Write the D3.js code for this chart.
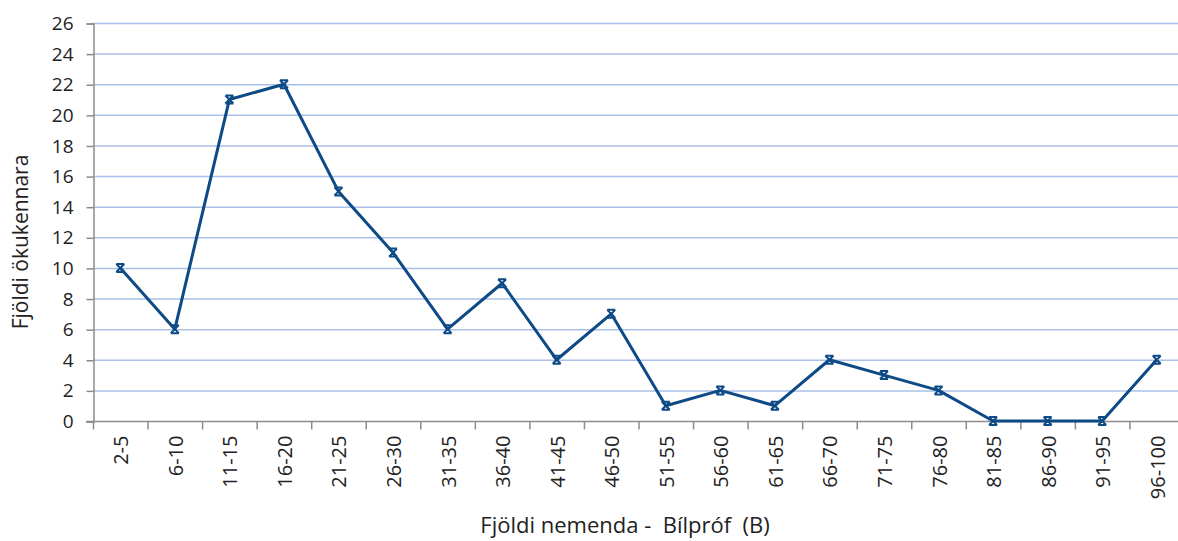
<!DOCTYPE html>
<html>
<head>
<meta charset="utf-8">
<script src="https://d3js.org/d3.v7.min.js"></script>
<style>
  body { margin: 0; background: #fff; }
  text { font-family: "Open Sans", "Liberation Sans", sans-serif; fill: #222; }
</style>
</head>
<body>
<div class="chart"></div>
<script>
// gögn
var categories = ["2-5", "6-10", "11-15", "16-20", "21-25", "26-30", "31-35", "36-40", "41-45", "46-50",
  "51-55", "56-60", "61-65", "66-70", "71-75", "76-80", "81-85", "86-90", "91-95", "96-100"];
var values = [10, 6, 21, 22, 15, 11, 6, 9, 4, 7, 1, 2, 1, 4, 3, 2, 0, 0, 0, 4];
var yTicks = [0, 2, 4, 6, 8, 10, 12, 14, 16, 18, 20, 22, 24, 26];
var xTitle = "Fjöldi nemenda -  Bílpróf  (B)";
var yTitle = "Fjöldi ökukennara";

var width = 1178, height = 541;
var mLeft = 93, mRight = 1184, mTop = 23, mBottom = 421;

var svg = d3.select(".chart")
  .append("svg")
  .attr("width", width)
  .attr("height", height);

var x = d3.scaleBand().domain(categories).range([mLeft, mRight]);
var y = d3.scaleLinear().domain([0, 26]).range([mBottom, mTop]);

// grid
svg.append("g")
  .selectAll("line")
  .data(yTicks.filter(function(d) { return d > 0; }))
  .enter()
  .append("line")
  .attr("x1", mLeft)
  .attr("x2", mRight)
  .attr("y1", function(d) { return y(d) + 0.5; })
  .attr("y2", function(d) { return y(d) + 0.5; })
  .attr("stroke", "#a9c0e8")
  .attr("stroke-width", 1.5);

// y ás
var yAxis = svg.append("g")
  .attr("transform", "translate(" + (mLeft + 0.5) + ",0.5)")
  .call(d3.axisLeft(y).tickValues(yTicks).tickSize(7).tickPadding(13));
yAxis.select(".domain").attr("stroke", "#8c8c8c").attr("stroke-width", 1.5);
yAxis.selectAll(".tick line").attr("stroke", "#8c8c8c").attr("stroke-width", 1.5);
yAxis.selectAll(".tick text")
  .style("font-family", "'Open Sans', sans-serif")
  .style("font-size", "19px")
  .attr("fill", "#222");

// x ás
var xAxis = svg.append("g")
  .attr("transform", "translate(0," + (mBottom + 0.5) + ")");
xAxis.append("line")
  .attr("x1", mLeft - 7).attr("x2", mRight)
  .attr("stroke", "#8c8c8c").attr("stroke-width", 1.5);
xAxis.selectAll(".xtick")
  .data(categories)
  .enter()
  .append("line")
  .attr("x1", function(d) { return x(d) + 0.5; })
  .attr("x2", function(d) { return x(d) + 0.5; })
  .attr("y1", 0).attr("y2", 8)
  .attr("stroke", "#8c8c8c").attr("stroke-width", 1.5);
xAxis.selectAll(".xlabel")
  .data(categories)
  .enter()
  .append("text")
  .attr("transform", function(d) {
    return "translate(" + (x(d) + x.bandwidth() / 2 + 8) + ",14) rotate(-90)";
  })
  .attr("text-anchor", "end")
  .style("font-size", "20px")
  .text(function(d) { return d; });

// lína
var line = d3.line()
  .x(function(d, i) { return x(categories[i]) + x.bandwidth() / 2; })
  .y(function(d) { return y(d); });

svg.append("path")
  .datum(values)
  .attr("d", line)
  .attr("fill", "none")
  .attr("stroke", "#0d4a86")
  .attr("stroke-width", 3)
  .attr("stroke-linejoin", "round");

// merki
var markers = svg.append("g")
  .selectAll("g")
  .data(values)
  .enter()
  .append("g")
  .attr("transform", function(d, i) {
    return "translate(" + (x(categories[i]) + x.bandwidth() / 2) + "," + y(d) + ")";
  });
markers.append("path")
  .attr("d", "M-4,-4L4,4M-4,4L4,-4M-4,-4L4,-4M-4,4L4,4")
  .attr("stroke", "#0d4a86")
  .attr("stroke-width", 2)
  .attr("fill", "none");

// titlar
svg.append("text")
  .attr("x", 625)
  .attr("y", 533)
  .attr("text-anchor", "middle")
  .style("font-size", "22px")
  .style("white-space", "pre")
  .attr("xml:space", "preserve")
  .text(xTitle);

svg.append("text")
  .attr("transform", "translate(28,242) rotate(-90)")
  .attr("text-anchor", "middle")
  .style("font-size", "21px")
  .text(yTitle);
</script>
</body>
</html>
